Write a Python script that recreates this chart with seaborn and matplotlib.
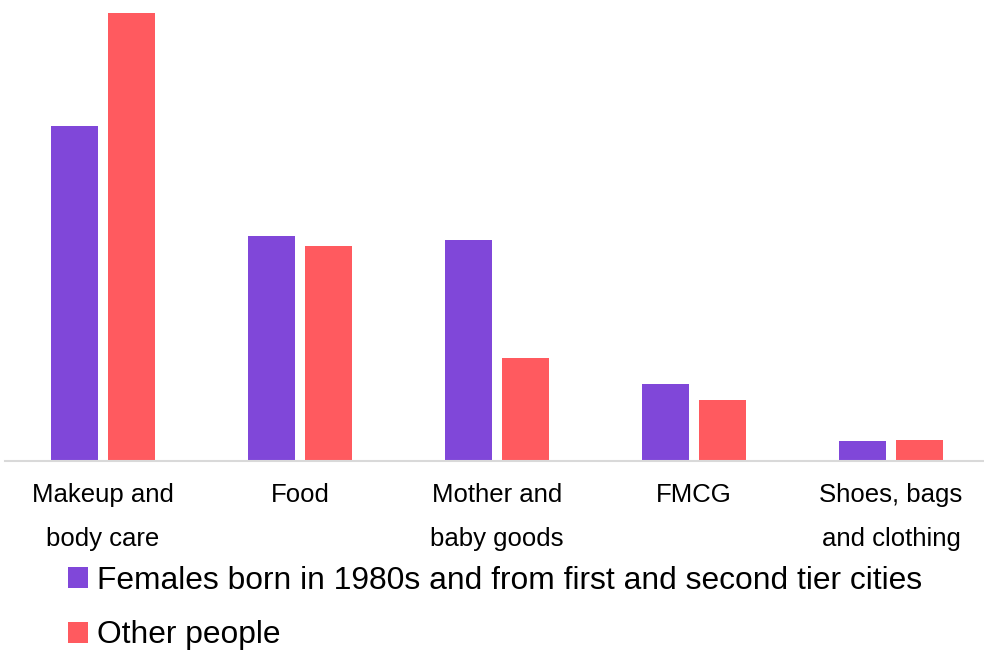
import matplotlib
matplotlib.use("Agg")
import matplotlib.pyplot as plt
import seaborn as sns
import pandas as pd

categories = ["Makeup and\nbody care", "Food", "Mother and\nbaby goods", "FMCG",
              "Shoes, bags\nand clothing"]
series_names = ["Females born in 1980s and from first and second tier cities",
                "Other people"]
females_80s = [33.5, 22.5, 22.1, 7.7, 2.0]
other_people = [44.8, 21.5, 10.3, 6.1, 2.1]
colors = ["#8047D9", "#FF5A5F"]

df = pd.DataFrame({
    "category": categories * 2,
    "group": [series_names[0]] * len(categories) + [series_names[1]] * len(categories),
    "value": females_80s + other_people,
})

sns.set_theme(style="white")
plt.rcParams["font.family"] = ["Liberation Sans", "DejaVu Sans"]

W, H = 984, 651
fig = plt.figure(figsize=(W / 100, H / 100), dpi=100)
ax = fig.add_axes([4.5 / W, 190 / H, 985 / W, 448 / H])

sns.barplot(data=df, x="category", y="value", hue="group", palette=colors,
            width=0.58, gap=0.18, linewidth=0, saturation=1, ax=ax,
            errorbar=None)

ax.set_xlim(-0.5, 4.5)
ax.set_ylim(0, max(other_people))
ax.set_xlabel("")
ax.set_ylabel("")
ax.set_yticks([])
for side in ["left", "right", "top"]:
    ax.spines[side].set_visible(False)
ax.spines["bottom"].set_color("#d9d9d9")
ax.spines["bottom"].set_linewidth(1.5)
ax.tick_params(axis="x", length=0, pad=15.5, labelsize=18.5, colors="black")
for lbl in ax.get_xticklabels():
    lbl.set_linespacing(2.07)

handles, labels = ax.get_legend_handles_labels()
leg = ax.legend(handles, labels, loc="upper left",
                bbox_to_anchor=(68 / W, 1 - 566 / H), bbox_transform=fig.transFigure,
                frameon=False, fontsize=22.85, handlelength=0.63, handleheight=0.63,
                handletextpad=0.28, labelspacing=0.77, borderaxespad=0, borderpad=0)
for t in leg.get_texts():
    t.set_color("black")

fig.savefig("out.png", dpi=100)
